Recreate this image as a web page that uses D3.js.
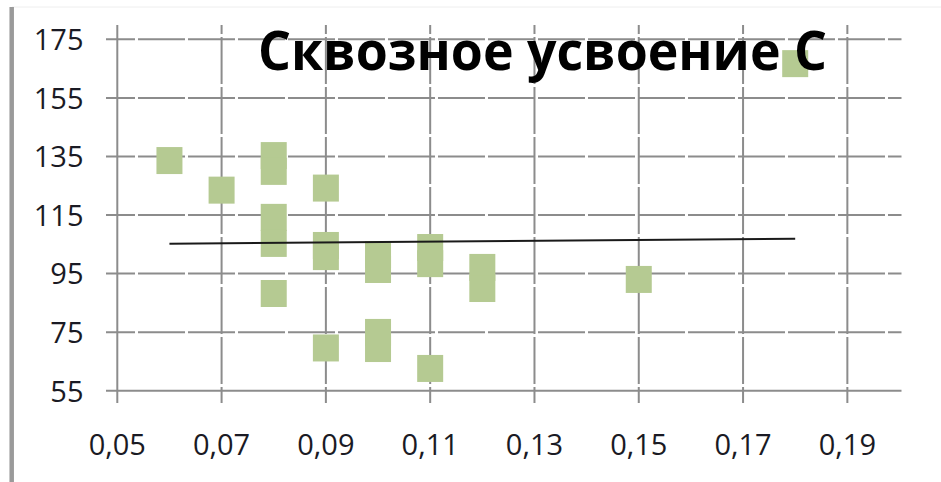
<!DOCTYPE html>
<html>
<head>
<meta charset="utf-8">
<script src="https://cdn.jsdelivr.net/npm/d3@7"></script>
<style>
  html, body { margin: 0; padding: 0; background: #fff; }
  svg { display: block; }
</style>
</head>
<body>
<svg id="chart" width="941" height="482"></svg>
<script>
// Chart title
const title = "Сквозное усвоение С";

// Axis ticks
const xTicks = [0.05, 0.07, 0.09, 0.11, 0.13, 0.15, 0.17, 0.19];
const yTicks = [55, 75, 95, 115, 135, 155, 175];

// Observations (x, y)
const xs = [0.06, 0.07, 0.08, 0.08, 0.08, 0.08, 0.08,
            0.09, 0.09, 0.09, 0.09,
            0.10, 0.10, 0.10, 0.10,
            0.11, 0.11, 0.11,
            0.12, 0.12,
            0.15, 0.18];
const ys = [133.6, 123.5, 135.3, 129.9, 114.2, 105.3, 88.2,
            124.2, 104.6, 100.8, 69.6,
            101.5, 96.4, 74.9, 69.4,
            103.9, 98.4, 62.6,
            97.1, 89.9,
            93.0, 166.7];

// Linear trend line end points
const trendX = [0.06, 0.18];
const trendY = [105.2, 106.9];

const svg = d3.select("#chart");
const fmt = d3.formatLocale({decimal: ",", thousands: " ", grouping: [3], currency: ["", ""]}).format(".2f");

const x = d3.scaleLinear().domain([0.05, 0.2]).range([117.3, 899.5]);
const y = d3.scaleLinear().domain([55, 180]).range([390.7, 24.7]);

const gridColor = "#8c8c8c";
const xLeft = 106, xRight = 901.5;
const yTop = 25, yBottom = 403;

// Frame edge
svg.append("line")
  .attr("x1", 12).attr("x2", 941).attr("y1", 7).attr("y2", 7)
  .attr("stroke", "#eeeeee").attr("stroke-width", 1);
svg.append("line")
  .attr("x1", 11.7).attr("x2", 11.7).attr("y1", 7).attr("y2", 482)
  .attr("stroke", "#9a9a9a").attr("stroke-width", 4.5);

// Horizontal gridlines
svg.append("g").selectAll("line")
  .data(yTicks.filter(v => v !== 55))
  .join("line")
  .attr("x1", xLeft).attr("x2", xRight)
  .attr("y1", d => y(d)).attr("y2", d => y(d))
  .attr("stroke", gridColor).attr("stroke-width", 2)
  .attr("stroke-dasharray", "47,3").attr("stroke-dashoffset", 18);

// Vertical gridlines
svg.append("g").selectAll("line")
  .data(xTicks.filter(v => v !== 0.05))
  .join("line")
  .attr("x1", d => x(d)).attr("x2", d => x(d))
  .attr("y1", yTop).attr("y2", yBottom)
  .attr("stroke", gridColor).attr("stroke-width", 2)
  .attr("stroke-dasharray", "47,3").attr("stroke-dashoffset", 38);

// Axis lines
svg.append("line")
  .attr("x1", xLeft).attr("x2", xRight)
  .attr("y1", y(55)).attr("y2", y(55))
  .attr("stroke", gridColor).attr("stroke-width", 2);
svg.append("line")
  .attr("x1", x(0.05)).attr("x2", x(0.05))
  .attr("y1", yTop).attr("y2", yBottom)
  .attr("stroke", gridColor).attr("stroke-width", 2);

// Tick labels
svg.append("g").selectAll("text")
  .data(yTicks)
  .join("text")
  .attr("x", 83.5)
  .attr("y", d => y(d) + 10.8)
  .attr("text-anchor", "end")
  .attr("font-family", "'Open Sans', sans-serif")
  .attr("font-size", 29)
  .attr("fill", "#1a1a24")
  .text(d => d);

svg.append("g").selectAll("text")
  .data(xTicks)
  .join("text")
  .attr("x", d => x(d))
  .attr("y", 455)
  .attr("text-anchor", "middle")
  .attr("font-family", "'Open Sans', sans-serif")
  .attr("font-size", 29)
  .attr("fill", "#1a1a24")
  .text(d => fmt(d));

// Markers
const pts = xs.map((v, i) => ({x: v, y: ys[i]}));
const mw = 26, mh = 27;
svg.append("g").selectAll("rect")
  .data(pts)
  .join("rect")
  .attr("x", d => x(d.x) - mw / 2)
  .attr("y", d => y(d.y) - mh / 2)
  .attr("width", mw).attr("height", mh)
  .attr("fill", "#b5ca92");

// Trend line
svg.append("path")
  .datum(trendX.map((v, i) => [v, trendY[i]]))
  .attr("d", d3.line().x(d => x(d[0])).y(d => y(d[1])))
  .attr("fill", "none")
  .attr("stroke", "#1a1a1a")
  .attr("stroke-width", 2);

// Title
svg.append("text")
  .attr("x", 258)
  .attr("y", 70)
  .attr("font-family", "'Open Sans', sans-serif")
  .attr("font-weight", "bold")
  .attr("font-size", 53)
  .attr("textLength", 569)
  .attr("lengthAdjust", "spacingAndGlyphs")
  .attr("fill", "#000")
  .text(title);
</script>
</body>
</html>
